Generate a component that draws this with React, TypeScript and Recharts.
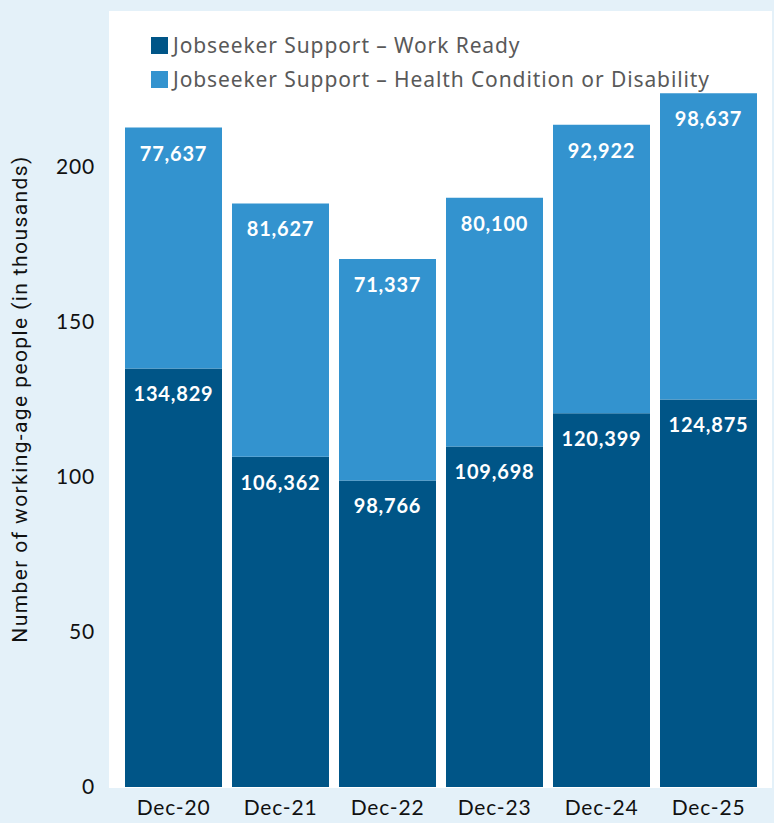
import { Bar, BarChart, LabelList, XAxis, YAxis } from "recharts";

const periods = ["Dec-20", "Dec-21", "Dec-22", "Dec-23", "Dec-24", "Dec-25"];
const workReady = [134829, 106362, 98766, 109698, 120399, 124875];
const healthDisability = [77637, 81627, 71337, 80100, 92922, 98637];
const yTicks = [0, 50, 100, 150, 200];

const seriesNames = {
  workReady: "Jobseeker Support – Work Ready",
  health: "Jobseeker Support – Health Condition or Disability",
};

const DARK = "#005587";
const LIGHT = "#3393cf";
const BG = "#e4f1f9";

const data = periods.map((period, i) => ({
  period,
  workReady: workReady[i] / 1000,
  health: healthDisability[i] / 1000,
  workReadyRaw: workReady[i],
  healthRaw: healthDisability[i],
}));

const tickFont = "Lato, sans-serif";

function SegmentLabel(props: any) {
  const { x, y, width, value } = props;
  return (
    <text
      x={x + width / 2}
      y={y + 25}
      fill="#fff"
      textAnchor="middle"
      dominantBaseline="central"
      fontFamily={tickFont}
      fontWeight={700}
      fontSize={20}
      letterSpacing={0.8}
    >
      {value.toLocaleString("en-US")}
    </text>
  );
}

function LegendBox() {
  const rows = [
    { name: seriesNames.workReady, color: DARK },
    { name: seriesNames.health, color: LIGHT },
  ];
  return (
    <div style={{ position: "absolute", left: 151, top: 28 }}>
      {rows.map((r) => (
        <div
          key={r.name}
          style={{ display: "flex", alignItems: "center", height: 34 }}
        >
          <span
            style={{
              width: 17,
              height: 17,
              background: r.color,
              marginRight: 5,
              display: "inline-block",
            }}
          />
          <span
            style={{
              fontFamily: "'Noto Sans', sans-serif",
              fontSize: 21,
              letterSpacing: 0.9,
              color: "#595959",
            }}
          >
            {r.name}
          </span>
        </div>
      ))}
    </div>
  );
}

export default function App() {
  return (
    <div
      style={{
        position: "absolute",
        left: 0,
        top: 0,
        width: 774,
        height: 823,
        background: BG,
        overflow: "hidden",
      }}
    >
      <div
        style={{
          position: "absolute",
          left: 109,
          top: 11,
          width: 663,
          height: 777,
          background: "#fff",
        }}
      />
      <div style={{ position: "absolute", left: 0, top: 0 }}>
        <BarChart
          width={774}
          height={823}
          data={data}
          margin={{ top: 11, right: 12, bottom: 0, left: 20 }}
          barCategoryGap={5}
        >
          <XAxis
            dataKey="period"
            height={36}
            axisLine={false}
            tickLine={false}
            tickSize={0}
            tickMargin={13}
            tick={{ fill: "#111", fontSize: 21, fontFamily: tickFont, letterSpacing: 0.8 }}
            interval={0}
          />
          <YAxis
            domain={[0, 250]}
            ticks={yTicks}
            width={100}
            axisLine={false}
            tickLine={false}
            tickSize={0}
            tickMargin={25}
            tick={{ fill: "#111", fontSize: 21, fontFamily: tickFont, letterSpacing: 0.8 }}
            label={{
              value: "Number of working-age people (in thousands)",
              angle: -90,
              position: "insideLeft",
              offset: 0,
              style: {
                textAnchor: "middle",
                fill: "#111",
                fontSize: 21,
                letterSpacing: 1.4,
                fontFamily: "Roboto, sans-serif",
              },
            }}
          />
          <Bar dataKey="workReady" stackId="a" fill={DARK} isAnimationActive={false}>
            <LabelList dataKey="workReadyRaw" content={SegmentLabel} />
          </Bar>
          <Bar dataKey="health" stackId="a" fill={LIGHT} isAnimationActive={false}>
            <LabelList dataKey="healthRaw" content={SegmentLabel} />
          </Bar>
        </BarChart>
      </div>
      <LegendBox />
    </div>
  );
}
